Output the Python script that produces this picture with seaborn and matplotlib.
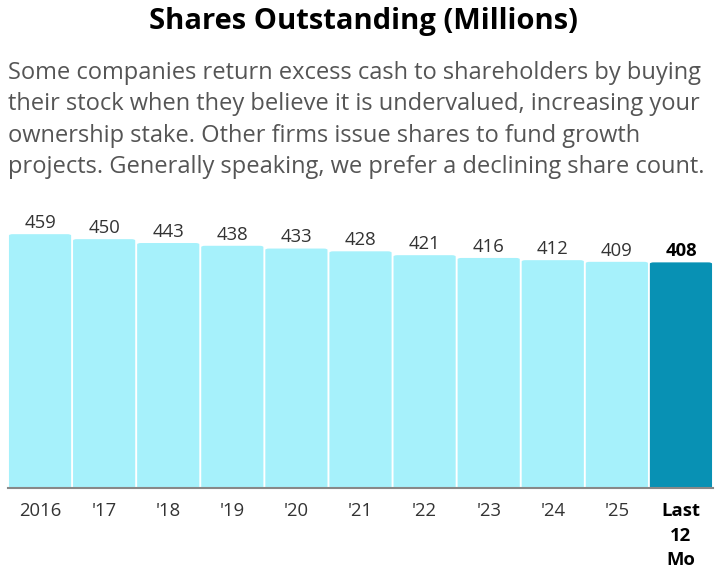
import matplotlib
matplotlib.use("Agg")
import matplotlib.pyplot as plt
import seaborn as sns
import pandas as pd
from matplotlib.patches import FancyBboxPatch

years = ["2016", "'17", "'18", "'19", "'20", "'21", "'22", "'23", "'24", "'25", "Last\n12\nMo"]
shares = [459, 450, 443, 438, 433, 428, 421, 416, 412, 409, 408]

light = "#a6f1fb"
dark = "#0891b4"

sns.set_style("white")
plt.rcParams["font.family"] = ["Open Sans", "DejaVu Sans"]

data = pd.DataFrame({"period": years, "shares": shares})
colors = [light] * (len(years) - 1) + [dark]

fig = plt.figure(figsize=(7.26, 5.74), dpi=100)
ax = fig.add_axes([8 / 726, 86 / 574, 705 / 726, 288 / 574])

sns.barplot(data=data, x="period", y="shares", hue="period", palette=colors,
            legend=False, width=0.97, ax=ax, saturation=1)

# rounded top corners
for p in list(ax.patches):
    x, y = p.get_x(), p.get_y()
    w, h = p.get_width(), p.get_height()
    fb = FancyBboxPatch((x, y - 6), w, h + 6,
                        boxstyle="round,pad=0,rounding_size=0.06",
                        mutation_aspect=40,
                        facecolor=p.get_facecolor(), edgecolor="none", zorder=2)
    p.remove()
    ax.add_patch(fb)

ax.set_xlim(-0.5, len(years) - 0.5)
ax.set_ylim(0, 288 / 0.553)

for i, v in enumerate(shares):
    last = i == len(shares) - 1
    ax.text(i, v + 4, str(v), ha="center", va="bottom",
            fontsize=13.3, color="black" if last else "#333333",
            fontweight="bold" if last else "normal")

for s in ["top", "right", "left"]:
    ax.spines[s].set_visible(False)
ax.spines["bottom"].set_color("#888888")
ax.spines["bottom"].set_linewidth(1.5)
ax.spines["bottom"].set_zorder(5)
ax.set_yticks([])
ax.set_xlabel("")
ax.set_ylabel("")
ax.tick_params(axis="x", length=5, width=1.2, color="#888888",
               labelsize=13.3, labelcolor="#333333", pad=5)
ax.set_xticks(range(len(years)))
ax.set_xticklabels(years, linespacing=1.48)
lbl = ax.get_xticklabels()[-1]
lbl.set_fontweight("bold")
lbl.set_color("black")

fig.text(0.5, 1 - 21 / 574, "Shares Outstanding (Millions)", ha="center", va="center",
         fontsize=21, fontweight="bold", color="black")
fig.text(8 / 726, 1 - 61 / 574,
         "Some companies return excess cash to shareholders by buying\n"
         "their stock when they believe it is undervalued, increasing your\n"
         "ownership stake. Other firms issue shares to fund growth\n"
         "projects. Generally speaking, we prefer a declining share count.",
         ha="left", va="top", fontsize=17, color="#555555", linespacing=1.41)

fig.savefig("out.png", dpi=100)
